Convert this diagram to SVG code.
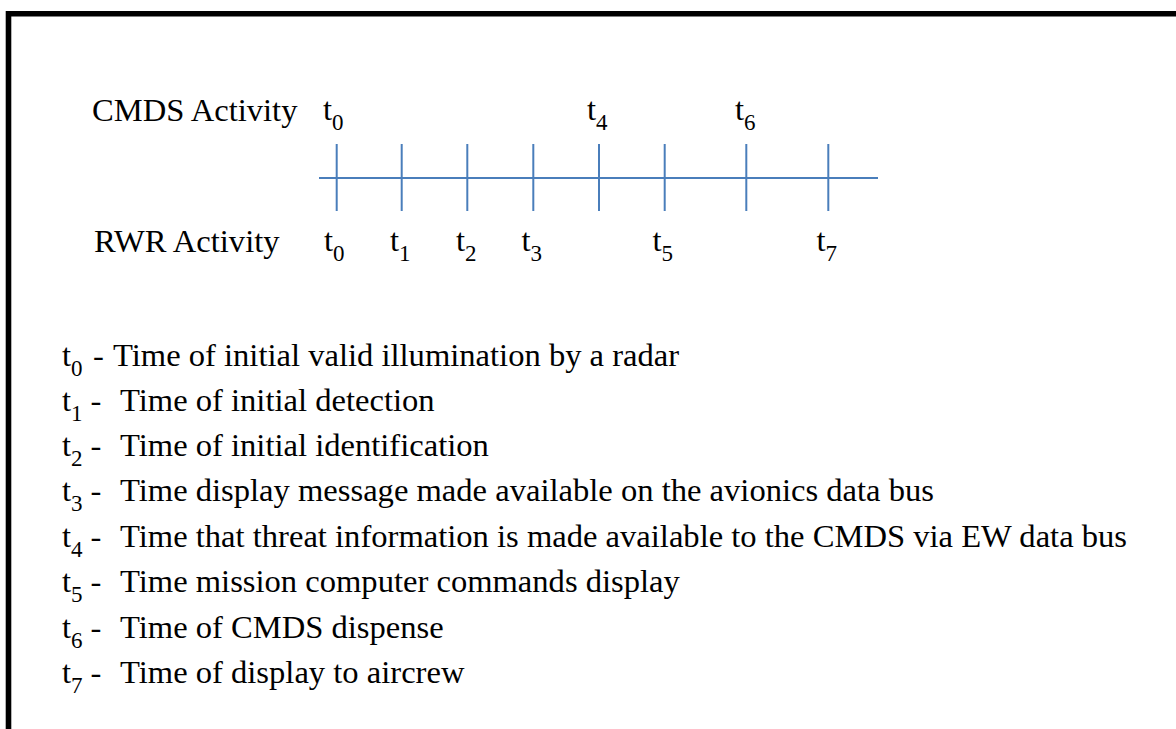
<svg xmlns="http://www.w3.org/2000/svg" width="1176" height="729" viewBox="0 0 1176 729">
<style>
text{font-family:"Liberation Serif","Times New Roman",serif;font-size:32.6px;fill:#000}
.sub{font-size:23px}
.tl{stroke:#4a7ebb;stroke-width:2;fill:none}
</style>
<rect width="1176" height="729" fill="#fff"/>
<path d="M8.5 729V13.8H1176" fill="none" stroke="#000" stroke-width="5.6"/>
<g id="labels">
<text x="92" y="121">CMDS Activity</text>
<text x="94" y="252">RWR Activity</text>
</g>
<g id="connectors">
<line class="tl" x1="319" y1="178" x2="878" y2="178"/>
<line class="tl" x1="336.7" y1="144" x2="336.7" y2="211"/>
<line class="tl" x1="401.7" y1="144" x2="401.7" y2="211"/>
<line class="tl" x1="467.3" y1="144" x2="467.3" y2="211"/>
<line class="tl" x1="533.3" y1="144" x2="533.3" y2="211"/>
<line class="tl" x1="599" y1="144" x2="599" y2="211"/>
<line class="tl" x1="664.7" y1="144" x2="664.7" y2="211"/>
<line class="tl" x1="746.3" y1="144" x2="746.3" y2="211"/>
<line class="tl" x1="828.3" y1="144" x2="828.3" y2="211"/>
</g>
<g id="cmds-marks">
<text x="323" y="120">t<tspan class="sub" dy="10">0</tspan></text>
<text x="587" y="120">t<tspan class="sub" dy="10">4</tspan></text>
<text x="735" y="120">t<tspan class="sub" dy="10">6</tspan></text>
</g>
<g id="rwr-marks">
<text x="324" y="251">t<tspan class="sub" dy="10">0</tspan></text>
<text x="390" y="251">t<tspan class="sub" dy="10">1</tspan></text>
<text x="456" y="251">t<tspan class="sub" dy="10">2</tspan></text>
<text x="521.5" y="251">t<tspan class="sub" dy="10">3</tspan></text>
<text x="652.5" y="251">t<tspan class="sub" dy="10">5</tspan></text>
<text x="816.5" y="251">t<tspan class="sub" dy="10">7</tspan></text>
</g>
<g id="legend">
<text x="62" y="366">t<tspan class="sub" dy="10">0</tspan><tspan x="93" dy="-10">-</tspan><tspan x="113">Time of initial valid illumination by a radar</tspan></text>
<text x="62" y="411">t<tspan class="sub" dy="10">1</tspan><tspan x="90.5" dy="-10">-</tspan><tspan x="120">Time of initial detection</tspan></text>
<text x="62" y="456">t<tspan class="sub" dy="10">2</tspan><tspan x="90.5" dy="-10">-</tspan><tspan x="120">Time of initial identification</tspan></text>
<text x="62" y="501">t<tspan class="sub" dy="10">3</tspan><tspan x="90.5" dy="-10">-</tspan><tspan x="120">Time display message made available on the avionics data bus</tspan></text>
<text x="62" y="547">t<tspan class="sub" dy="10">4</tspan><tspan x="90.5" dy="-10">-</tspan><tspan x="120">Time that threat information is made available to the CMDS via EW data bus</tspan></text>
<text x="62" y="592">t<tspan class="sub" dy="10">5</tspan><tspan x="90.5" dy="-10">-</tspan><tspan x="120">Time mission computer commands display</tspan></text>
<text x="62" y="638">t<tspan class="sub" dy="10">6</tspan><tspan x="90.5" dy="-10">-</tspan><tspan x="120">Time of CMDS dispense</tspan></text>
<text x="62" y="683">t<tspan class="sub" dy="10">7</tspan><tspan x="90.5" dy="-10">-</tspan><tspan x="120">Time of display to aircrew</tspan></text>
</g>
</svg>
